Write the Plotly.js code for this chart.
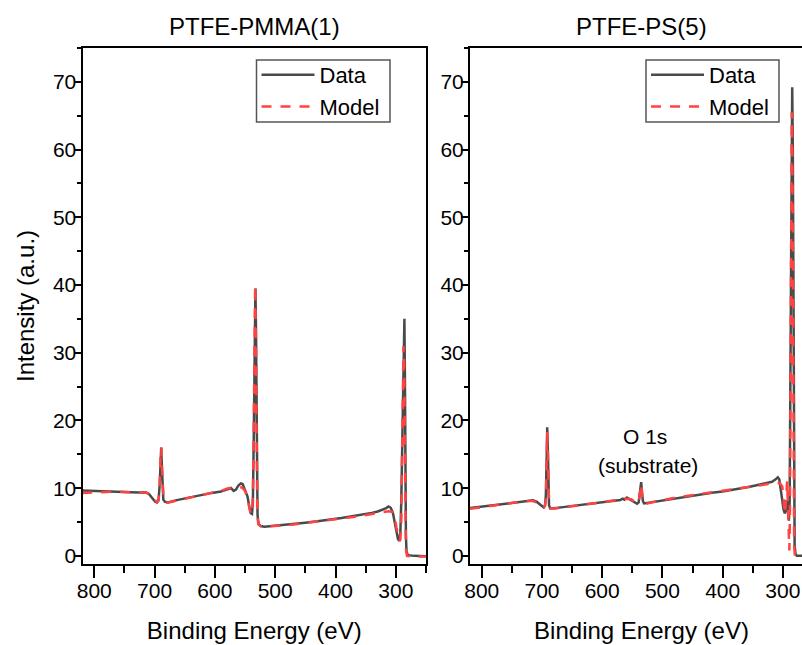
<!DOCTYPE html>
<html>
<head>
<meta charset="utf-8">
<script src="https://cdn.plot.ly/plotly-3.0.1.min.js"></script>
<style>
html, body { margin: 0; padding: 0; overflow: hidden; background: #fff; }
#chart { width: 816px; height: 645px; }
</style>
</head>
<body>
<div id="chart"></div>
<script>
// PTFE-PMMA(1) panel
const pmmaDataX = [820,800,780,760,740,725,715,709,704,699,696,693.5,691.5,690,689,688,687,685.5,683,678,665,650,635,620,605,590,578,573,569,565,561,557,554,550,546,543,540.5,538.5,537,535.5,534,532.8,531.8,530.5,529.3,527.5,524,518,505,490,470,450,430,410,390,370,355,340,330,322,316,312,308.5,305,302,299,296.5,294.5,292.5,291,289.5,288,286.8,285.8,285,284.2,283.3,282.3,280,270,260,250];
const pmmaDataY = [9.65,9.6,9.6,9.55,9.4,9.35,9.4,9.1,8.5,8.0,7.9,8.2,10.5,15,16,13.5,10,8.3,8.0,7.9,8.2,8.5,8.75,9.0,9.3,9.5,9.8,10.0,9.6,9.8,10.4,10.7,10.6,9.8,8.8,7.3,6.3,6.2,8,18,32,39.5,33,15,6,4.7,4.4,4.3,4.4,4.55,4.7,4.9,5.1,5.3,5.6,5.9,6.1,6.35,6.55,6.8,7.05,7.3,7.1,6.4,5.0,3.5,2.5,2.2,3.5,8,17,28,33,35,27,12,3,0.6,0.1,0,0,-0.05];
const pmmaModelX = [820,800,780,760,740,725,715,709,704,699,696,693.5,691.5,690.2,689,687.8,686.5,685,682,678,665,650,635,620,605,590,578,570,562,555,550,546,543,540.5,538.5,537,535.5,534.2,533.2,532.2,531,529.7,528,524,518,505,490,470,450,430,410,390,370,355,340,330,320,312,306,302,299,296.5,294,292.5,291,289.8,288.5,287.3,286.3,285.3,284.3,283.3,281.5,270,250];
const pmmaModelY = [9.3,9.4,9.5,9.5,9.4,9.4,9.35,9.2,8.7,8.1,7.95,8.2,10,14.5,16,13,9.5,8.2,7.95,7.85,8.15,8.45,8.75,9.0,9.3,9.6,10.0,10.1,10.2,10.1,9.6,8.5,7.1,6.1,6.3,9,20,34,40,33,15,6,4.7,4.4,4.3,4.35,4.5,4.65,4.85,5.05,5.25,5.5,5.75,5.95,6.15,6.3,6.45,6.6,6.5,5.6,4.2,3.0,2.2,2.4,5,14,25,31,29,18,6,1,0,-0.1,-0.1];

// PTFE-PS(5) panel
const psDataX = [819.5,805,790,775,760,745,732,722,715,709,704,700,697,695,693.5,692.3,691.3,690.3,689.3,688.3,686.5,680,665,650,635,620,605,590,578,570,566,563,559,555,550,546,542,539.5,538,536.5,535.3,534,532.5,530.5,527,518,505,490,475,460,445,430,415,400,385,370,355,340,328,318,312,308.5,306,303.5,301,299,297,295.5,294,292.8,291.3,290,288.8,287.6,286.5,285.5,284.5,283.5,282.5,281.5,280.5,279,277,265,250];
const psDataY = [7.05,7.2,7.4,7.55,7.7,7.85,8.0,8.15,8.2,8.0,7.6,7.25,7.15,7.4,9,14,19,16,10,7.5,7.05,7.05,7.2,7.35,7.55,7.65,7.8,7.95,8.15,8.25,8.45,8.3,8.6,8.4,8.2,7.95,7.7,7.9,9,10.8,10.9,9.5,8.1,7.75,7.8,8.0,8.2,8.4,8.6,8.8,8.95,9.2,9.35,9.5,9.7,9.95,10.2,10.5,10.75,10.95,11.3,11.6,11.3,10.0,8.2,6.9,6.3,6.5,7.8,8.1,6.5,5.2,8,25,50,64,69.2,60,32,8,1.5,0.3,0,0,0];
const psModelX = [819.5,805,790,775,760,745,732,722,715,709,704,700,697,695,693.5,692.3,691.3,690.3,689.3,688.3,686.5,680,665,650,635,620,605,590,575,562,552,546,542,539.5,538,536.5,535.3,534,532.5,530.5,527,518,505,490,475,460,445,430,415,400,385,370,355,340,325,312,305,301,298.5,296.5,294.5,293,291.8,290.5,289.3,288.3,287.3,286.3,285.3,284.3,283.3,282.3,281.3,280,270,250];
const psModelY = [6.95,7.15,7.35,7.55,7.7,7.9,8.05,8.1,8.1,7.9,7.5,7.2,7.15,7.4,8.5,13,18.3,15.5,10,7.5,7.0,7.0,7.15,7.3,7.5,7.65,7.85,8.05,8.25,8.45,8.35,8.0,7.75,7.8,8.8,10.4,10.6,9.3,8.0,7.7,7.7,7.9,8.15,8.4,8.65,8.85,9.05,9.25,9.45,9.65,9.85,10.05,10.25,10.45,10.6,10.7,10.75,10.2,8,6.2,8.5,11,8,3,0.8,6,25,50,65.5,60,35,10,1.5,0,-0.1,-0.1];

const seriesNames = ['Data', 'Model'];
const panelTitles = ['PTFE-PMMA(1)', 'PTFE-PS(5)'];
const xTitle = 'Binding Energy (eV)';
const yTitle = 'Intensity (a.u.)';
const noteLines = ['O 1s', '(substrate)'];
const noteX = [528.5, 523.5];
const noteY = [17.6, 13.4];

const FONT = 'Liberation Sans, Arial, Helvetica, sans-serif';
const W = 816, H = 645;
const px = v => v / W;
const py = v => (H - v) / H;

const dataLine = {color: '#4a4a4a', width: 2.5};
const modelLine = {color: '#ff4242', width: 2.5, dash: '10px,9px'};

const traces = [
  {x: pmmaDataX, y: pmmaDataY, name: seriesNames[0], type: 'scatter', mode: 'lines', line: dataLine, xaxis: 'x', yaxis: 'y', legend: 'legend'},
  {x: pmmaModelX, y: pmmaModelY, name: seriesNames[1], type: 'scatter', mode: 'lines', line: modelLine, xaxis: 'x', yaxis: 'y', legend: 'legend'},
  {x: psDataX, y: psDataY, name: seriesNames[0], type: 'scatter', mode: 'lines', line: dataLine, xaxis: 'x2', yaxis: 'y2', legend: 'legend2'},
  {x: psModelX, y: psModelY, name: seriesNames[1], type: 'scatter', mode: 'lines', line: modelLine, xaxis: 'x2', yaxis: 'y2', legend: 'legend2'}
];

function xAxis(domain, anchor) {
  return {
    domain: domain, anchor: anchor,
    range: [819.5, 250], autorange: false,
    tick0: 0, dtick: 100,
    ticks: 'outside', ticklen: 12, tickwidth: 2, tickcolor: '#000',
    ticklabelstandoff: -5,
    minor: {dtick: 50, ticks: 'outside', ticklen: 7, tickwidth: 2, tickcolor: '#000', showgrid: false},
    showline: true, linewidth: 2, linecolor: '#000', mirror: true,
    showgrid: false, zeroline: false,
    tickfont: {family: FONT, size: 21, color: '#000'},
    title: {text: xTitle, font: {family: FONT, size: 24, color: '#000'}, standoff: 21}
  };
}
function yAxis(domain, anchor, withTitle) {
  const a = {
    domain: domain, anchor: anchor,
    range: [-1.2, 75], autorange: false,
    tick0: 0, dtick: 10,
    ticks: 'outside', ticklen: 7, tickwidth: 2, tickcolor: '#000',
    ticklabelstandoff: -7,
    minor: {dtick: 5, ticks: 'outside', ticklen: 4, tickwidth: 2, tickcolor: '#000', showgrid: false},
    showline: true, linewidth: 2, linecolor: '#000', mirror: true,
    showgrid: false, zeroline: false,
    tickfont: {family: FONT, size: 21, color: '#000'}
  };
  if (withTitle) a.title = {text: yTitle, font: {family: FONT, size: 24, color: '#000'}, standoff: 12};
  return a;
}

const yDom = [py(564), py(48)];
const legendBase = {
  xanchor: 'left', yanchor: 'top', y: py(54),
  bgcolor: 'rgba(0,0,0,0)', borderwidth: 0,
  font: {family: FONT, size: 22, color: '#000'},
  tracegroupgap: 0, itemwidth: 53
};
function legendBox(x0, x1) {
  return {type: 'rect', xref: 'paper', yref: 'paper', x0: px(x0), x1: px(x1), y0: py(122), y1: py(60),
          line: {color: '#555', width: 1.5}, fillcolor: '#fff', layer: 'above'};
}

const layout = {
  width: W, height: H,
  margin: {l: 0, r: 0, t: 0, b: 0},
  paper_bgcolor: '#fff', plot_bgcolor: '#fff',
  showlegend: true,
  xaxis: xAxis([px(82.5), px(426)], 'y'),
  yaxis: yAxis(yDom, 'x', true),
  xaxis2: xAxis([px(470), px(813)], 'y2'),
  yaxis2: yAxis(yDom, 'x2', false),
  legend: Object.assign({}, legendBase, {x: px(256.5)}),
  legend2: Object.assign({}, legendBase, {x: px(646)}),
  shapes: [legendBox(256.5, 390), legendBox(646, 779)],
  annotations: [
    {text: panelTitles[0], xref: 'paper', yref: 'paper', x: px((82.5 + 426) / 2), y: py(27), xanchor: 'center', yanchor: 'middle', showarrow: false, font: {family: FONT, size: 24, color: '#000'}},
    {text: panelTitles[1], xref: 'paper', yref: 'paper', x: px((470 + 813) / 2), y: py(27), xanchor: 'center', yanchor: 'middle', showarrow: false, font: {family: FONT, size: 24, color: '#000'}},
    {text: noteLines[0], xref: 'x2', yref: 'y2', x: noteX[0], y: noteY[0], xanchor: 'center', yanchor: 'middle', showarrow: false, font: {family: FONT, size: 21, color: '#000'}},
    {text: noteLines[1], xref: 'x2', yref: 'y2', x: noteX[1], y: noteY[1], xanchor: 'center', yanchor: 'middle', showarrow: false, font: {family: FONT, size: 21, color: '#000'}}
  ]
};

Plotly.newPlot('chart', traces, layout, {staticPlot: true, displayModeBar: false});
</script>
</body>
</html>
